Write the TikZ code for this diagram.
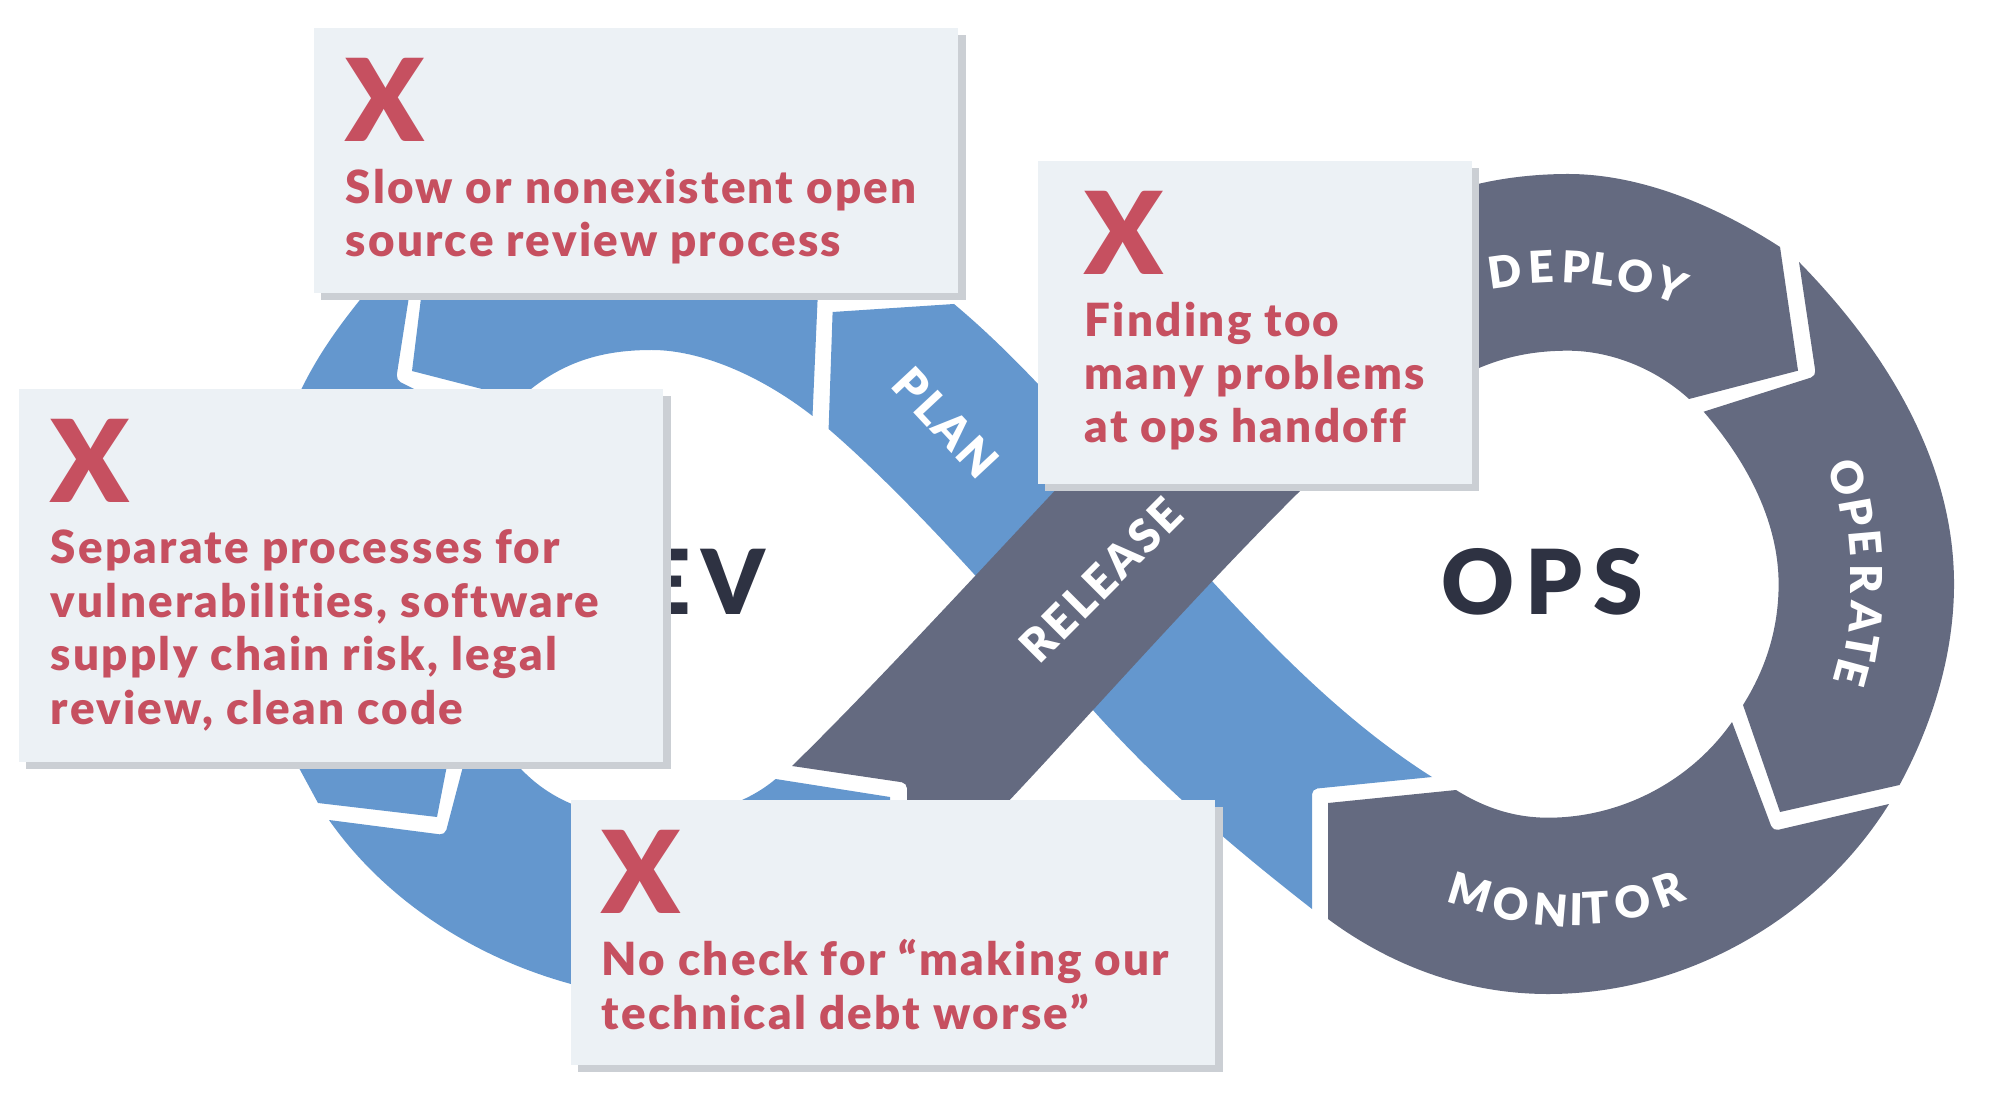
\documentclass[tikz,border=0pt]{standalone}
\usepackage{fontspec}
\setmainfont{Lato}
\usetikzlibrary{shadows}
\usetikzlibrary{positioning}

\definecolor{loopblue}{HTML}{6497CE}
\definecolor{loopgray}{HTML}{646A80}
\definecolor{boxfill}{HTML}{ECF1F5}
\definecolor{boxshade}{HTML}{CBCFD4}
\definecolor{warnred}{HTML}{C65060}
\definecolor{titledark}{HTML}{2E3242}

\newfontfamily\bandfont[LetterSpace=6.5]{Lato Black}
\newfontfamily\titlefont[LetterSpace=12]{Lato Black}
\newfontfamily\calloutfont[LetterSpace=5,Ligatures=NoCommon]{Lato Black}
\newfontfamily\heavyfont{Lato Black}

\tikzset{
    blueband/.style={fill=loopblue},
    grayband/.style={fill=loopgray},
    callout/.style={fill=boxfill, inner sep=0pt, anchor=north west,
        drop shadow={shadow xshift=0.075cm, shadow yshift=-0.075cm, opacity=1, fill=boxshade}},
    crossmark/.style={text=warnred, inner sep=0pt, anchor=north west, font=\fontsize{32.5}{33}\heavyfont},
    boxtext/.style={text=warnred, inner sep=0pt, anchor=north west, align=left, font=\fontsize{13}{15.2}\calloutfont},
    bandlabel/.style={text=white, inner sep=0pt, font=\fontsize{12.5}{13}\heavyfont},
    widelabel/.style={text=white, inner sep=0pt, font=\fontsize{13}{13}\bandfont},
    bigtitle/.style={text=titledark, inner sep=0pt, font=\fontsize{25.5}{25.5}\titlefont}
}

\begin{document}
\begin{tikzpicture}[x=0.01cm, y=-0.01cm]
    \useasboundingbox (0,0) rectangle (1992,1110);

    \fill[blueband] (410,290) [rounded corners=1.5pt] -- (396,380) [sharp corners] -- (420,392) -- (300,392) .. controls (320,350) and (345,318) .. (372,285) -- cycle;
    \fill[blueband] (422,290) -- (412,371) -- (482,389) -- (531,389) .. controls (570,358) and (610,350) .. (652,350) .. controls (700,350) and (760,375) .. (812.5,416) -- (818,290) -- cycle;
    \fill[blueband] (292,755) -- (318,803) -- (437,817) -- (449,755) -- cycle;
    \fill[blueband] (329,820) [rounded corners=1.5pt] -- (445,835) [sharp corners] -- (466,755) -- (509,755) -- (521,769) .. controls (560,810) and (610,818) .. (650,818) .. controls (700,818) and (745,805) .. (775.6,779) -- (890,797) -- (890,850) -- (640,994) -- (571,984) .. controls (465,955) and (380,893) .. (329,820) -- cycle;

    \fill[blueband] (832.6,312) -- (954,304) .. controls (1045,380) and (1130,490) .. (1211,580) .. controls (1280,655) and (1350,725) .. (1432,777) [rounded corners=1.5pt] -- (1312,789) [sharp corners] -- (1312,909) .. controls (1230,845) and (1160,785) .. (1092,709) .. controls (1000,600) and (905,495) .. (828.6,429) -- cycle;

    \fill[grayband] (792,766) [rounded corners=1.5pt] -- (907,783) [sharp corners] -- (907,805) -- (1005,805) .. controls (1090,715) and (1200,590) .. (1300,491) -- (1340,440) -- (1100,440) -- (1053.6,492) .. controls (985,565) and (870,690) .. (792,766) -- cycle;

    \fill[grayband] (1470,186) .. controls (1500,178) and (1535,174) .. (1568,174) .. controls (1640,174) and (1715,205) .. (1780,247) -- (1798,370.7) -- (1689,399) .. controls (1655,368) and (1610,350.7) .. (1568,350.7) .. controls (1530,350.7) and (1500,358) .. (1470,372) -- cycle;

    \fill[grayband] (1799,262) [rounded corners=1.5pt] -- (1816,376) [sharp corners] -- (1703.6,411.7) .. controls (1750,465) and (1778.6,525) .. (1778.6,584) .. controls (1778.6,630) and (1765,670) .. (1743,705) -- (1780,812) -- (1899.5,785) .. controls (1932,725) and (1954,655) .. (1954,584) .. controls (1954,470) and (1895,360) .. (1799,262) -- cycle;

    \fill[grayband] (1328,803) -- (1328,919) .. controls (1390,965) and (1465,994) .. (1548,994) .. controls (1690,994) and (1820,915) .. (1889,804) [rounded corners=1.5pt] -- (1773,831) [sharp corners] -- (1732,722) .. controls (1690,782) and (1620,817.7) .. (1548,817.7) .. controls (1510,817.7) and (1480,805) .. (1456,790) -- cycle;

    \node[bigtitle, anchor=east] (devtitle) at (766,582) {DEV};
    \node[bigtitle, anchor=center] (opstitle) at (1542,582) {OPS};

    \node[widelabel, rotate=-47] (planlabel) at (946,423) {PLAN};
    \node[widelabel, rotate=45] (releaselabel) at (1101,580) {RELEASE};

    \foreach \ch/\xpos/\ypos/\ang [count=\i] in {D/1505/271/8, E/1541/267/3, P/1576/267/-3, L/1603/269/-8, O/1636/276/-14, Y/1671/285/-22}
        \node[bandlabel, rotate=\ang] (deploy\i) at (\xpos,\ypos) {\ch};

    \foreach \ch/\xpos/\ypos/\ang [count=\i] in {O/1848/478/-75, P/1857/512/-80, E/1866/543/-85, R/1866/579/-90, A/1866/617/-95, T/1862/647/-100, E/1852/673/-105}
        \node[bandlabel, rotate=\ang] (operate\i) at (\xpos,\ypos) {\ch};

    \foreach \ch/\xpos/\ypos/\ang [count=\i] in {M/1470/892/-17, O/1510.6/904/-11, N/1551/910/-5, I/1577/910/-1, T/1596/908/3, O/1633/902/9, R/1669/890/20}
        \node[bandlabel, rotate=\ang] (monitor\i) at (\xpos,\ypos) {\ch};

    \node[callout, minimum width=6.44cm, minimum height=2.65cm] (slowbox) at (313,27) {};
    \node[callout, minimum width=6.44cm, minimum height=3.73cm] (separatebox) at (18,388) {};
    \node[callout, minimum width=4.34cm, minimum height=3.23cm] (findingbox) at (1037,160) {};
    \node[callout, minimum width=6.44cm, minimum height=2.65cm] (checkbox) at (570,799) {};

    \node[crossmark] (slowx) at (345,58) {X};
    \node[crossmark] (separatex) at (50,419) {X};
    \node[crossmark] (findingx) at (1084,191) {X};
    \node[crossmark] (checkx) at (601,830) {X};

    \node[boxtext] (slowtext) at (345,168) {Slow or nonexistent open\\source review process};
    \node[boxtext] (separatetext) at (50,529) {Separate processes for\\vulnerabilities, software\\supply chain risk, legal\\review, clean code};
    \node[boxtext] (findingtext) at (1084,301) {Finding too\\many problems\\at ops handoff};
    \node[boxtext] (checktext) at (601,939) {No check for “making our\\technical debt worse”};
\end{tikzpicture}
\end{document}
